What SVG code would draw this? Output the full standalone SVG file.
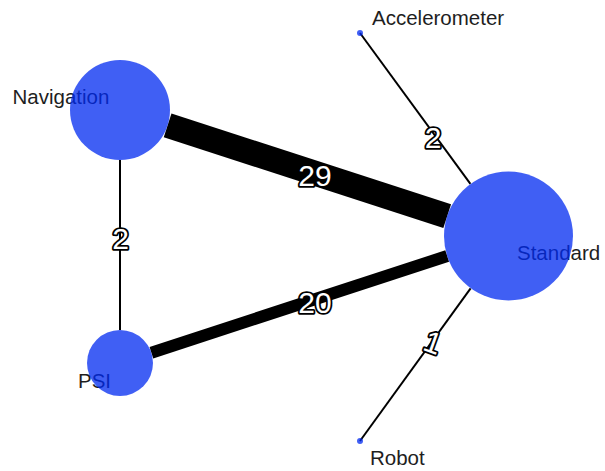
<svg xmlns="http://www.w3.org/2000/svg" width="605" height="471" viewBox="0 0 605 471">
<style>
.lbl{font-family:"Liberation Sans",Arial,sans-serif;font-size:20.5px;fill:#1e1e1e}
.el{font-family:"Liberation Sans",Arial,sans-serif;font-size:30px;fill:#fff;stroke:#000;stroke-width:3.6;paint-order:stroke;stroke-linejoin:round;text-anchor:middle}
.node{fill:rgb(0,42,240);fill-opacity:0.75}
.edge{stroke:#000;fill:none}
</style>
<rect width="605" height="471" fill="#fff"/>
<g id="connectors">
<line class="edge" x1="167.6" y1="125.4" x2="447.2" y2="216.1" stroke-width="25"/>
<line class="edge" x1="151.4" y1="352.7" x2="447.2" y2="256" stroke-width="12"/>
<line class="edge" x1="120" y1="160" x2="120" y2="330" stroke-width="2"/>
<line class="edge" x1="360" y1="33" x2="470.4" y2="183.9" stroke-width="2"/>
<line class="edge" x1="360" y1="441" x2="470.6" y2="288.3" stroke-width="2"/>
<text class="el" x="315" y="186">29</text>
<text class="el" x="315" y="313">20</text>
<text class="el" x="120.5" y="249">2</text>
<text class="el" x="433" y="148">2</text>
<text class="el" x="433" y="353" transform="rotate(20 433 342)">1</text>
</g>
<g id="node-navigation">
<text class="lbl" x="12.5" y="103.5">Navigation</text>
<circle class="node" cx="120" cy="110" r="50"/>
</g>
<g id="node-standard">
<text class="lbl" x="517" y="260">Standard</text>
<circle class="node" cx="508.5" cy="236" r="64.5"/>
</g>
<g id="node-psi">
<text class="lbl" x="78" y="387.5">PSI</text>
<circle class="node" cx="120" cy="363" r="33"/>
</g>
<g id="node-accelerometer">
<text class="lbl" x="372" y="25">Accelerometer</text>
<circle class="node" cx="360" cy="33" r="3"/>
</g>
<g id="node-robot">
<text class="lbl" x="370" y="465">Robot</text>
<circle class="node" cx="360" cy="441" r="3"/>
</g>
</svg>
